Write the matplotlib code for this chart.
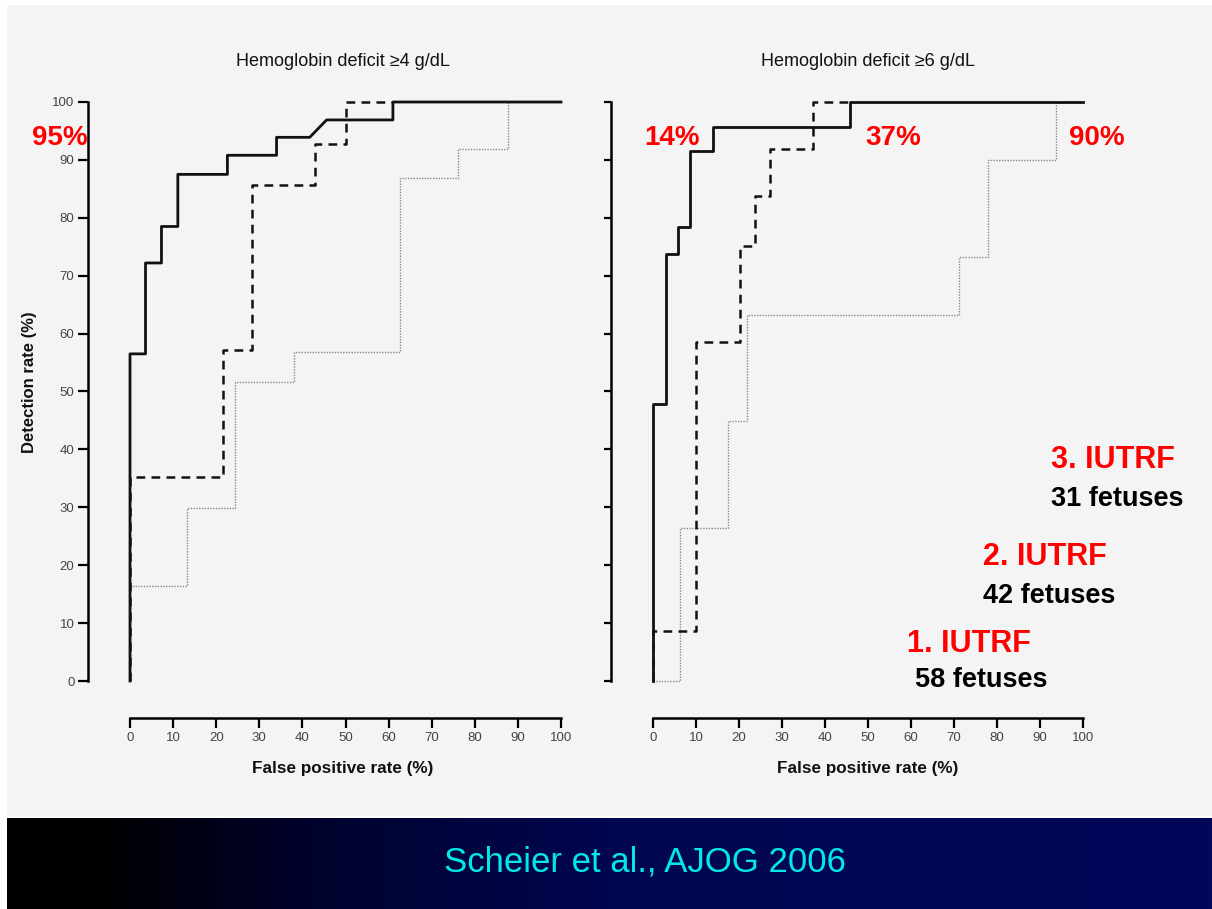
import numpy as np
import matplotlib
matplotlib.use("Agg")
import matplotlib.pyplot as plt
from matplotlib.colors import LinearSegmentedColormap
from matplotlib.patches import Rectangle

plt.rcParams['font.family'] = ['Liberation Sans', 'DejaVu Sans']

# ROC step curves (false positive %, detection %)
left_1_x = [0, 0, 3.6, 3.6, 7.3, 7.3, 11.1, 11.1, 22.6, 22.6, 34.0, 34.0, 41.7, 45.6, 61.0, 61.0, 100]
left_1_y = [0, 56.5, 56.5, 72.2, 72.2, 78.5, 78.5, 87.5, 87.5, 90.8, 90.8, 93.9, 93.9, 96.9, 96.9, 100, 100]
left_2_x = [0, 0, 21.6, 21.6, 28.3, 28.3, 43.0, 43.0, 50.1, 50.1, 61.0]
left_2_y = [0, 35.3, 35.3, 57.2, 57.2, 85.7, 85.7, 92.8, 92.8, 100, 100]
left_3_x = [0, 0, 13.2, 13.2, 24.4, 24.4, 38.0, 38.0, 62.7, 62.7, 76.2, 76.2, 87.6, 87.6, 100]
left_3_y = [0, 16.4, 16.4, 29.9, 29.9, 51.7, 51.7, 56.8, 56.8, 86.8, 86.8, 91.8, 91.8, 100, 100]

right_1_x = [0, 0, 3.0, 3.0, 5.8, 5.8, 8.5, 8.5, 14.0, 14.0, 45.7, 45.7, 100]
right_1_y = [0, 47.9, 47.9, 73.7, 73.7, 78.4, 78.4, 91.5, 91.5, 95.7, 95.7, 100, 100]
right_2_x = [0, 0, 10.1, 10.1, 20.3, 20.3, 23.7, 23.7, 27.2, 27.2, 37.2, 37.2, 45.7]
right_2_y = [0, 8.6, 8.6, 58.6, 58.6, 75.1, 75.1, 83.8, 83.8, 91.9, 91.9, 100, 100]
right_3_x = [0, 6.3, 6.3, 17.5, 17.5, 21.9, 21.9, 71.2, 71.2, 77.9, 77.9, 93.7, 93.7, 100]
right_3_y = [0, 0, 26.4, 26.4, 44.9, 44.9, 63.2, 63.2, 73.2, 73.2, 90.0, 90.0, 100, 100]

titles = ["Hemoglobin deficit \u22654 g/dL", "Hemoglobin deficit \u22656 g/dL"]
ticks = list(range(0, 101, 10))
fpr_labels = ["95%", "14%", "37%", "90%"]
groups = ["1. IUTRF", "2. IUTRF", "3. IUTRF"]
fetuses = ["58 fetuses", "42 fetuses", "31 fetuses"]
source = "Scheier et al., AJOG 2006"

W, H = 1212, 909
BG = '#f4f4f4'


def px(x, y):
    # pixel position (from top left) -> figure fraction
    return x / W, 1 - y / H


def style_axes(ax, show_ylabels):
    ax.set_xlim(0, 100)
    ax.set_ylim(0, 100)
    ax.set_facecolor('none')
    for s in ['top', 'right']:
        ax.spines[s].set_visible(False)
    ax.spines['left'].set_position(('outward', 30))
    ax.spines['bottom'].set_position(('outward', 26.6))
    for s in ['left', 'bottom']:
        ax.spines[s].set_linewidth(1.8)
    ax.set_xticks(ticks)
    ax.set_yticks(ticks)
    ax.tick_params(direction='out', length=7, width=1.6, labelsize=9.5,
                   labelcolor='#444444', pad=3)
    if not show_ylabels:
        ax.tick_params(axis='y', labelleft=False, length=5)


def draw_curves(ax, c1, c2, c3):
    ax.plot(c3[0], c3[1], color='#8a8a8a', lw=1.0, ls=(0, (1, 1)), clip_on=False)
    ax.plot(c2[0], c2[1], color='#111111', lw=1.8, ls=(0, (3.5, 2.5)), clip_on=False)
    ax.plot(c1[0], c1[1], color='#111111', lw=2.0, clip_on=False)


fig = plt.figure(figsize=(W / 100, H / 100), dpi=100, facecolor='white')
fig.patches.append(Rectangle(px(7, 816), (W - 7) / W, 811 / H, transform=fig.transFigure,
                             facecolor=BG, edgecolor='none', zorder=-10))

# banner with a black -> navy gradient
bax = fig.add_axes([7 / W, 0, (W - 7) / W, 91 / H])
cmap = LinearSegmentedColormap.from_list(
    'banner', [(0, '#000000'), (0.07, '#000000'), (0.25, '#00022c'),
               (0.5, '#000650'), (1, '#00085a')])
bax.imshow(np.linspace(0, 1, 256)[None, :], aspect='auto', cmap=cmap, extent=[0, 1, 0, 1])
bax.axis('off')
fig.text(*px(645, 872), source, color='#00e8e8', fontsize=25, ha='center', va='baseline')

ax1 = fig.add_axes([130 / W, 1 - 681 / H, 431 / W, 579 / H])
ax2 = fig.add_axes([653 / W, 1 - 681 / H, 430 / W, 579 / H])
style_axes(ax1, True)
style_axes(ax2, False)
ax2.spines['left'].set_position(('outward', 30.2))

draw_curves(ax1, (left_1_x, left_1_y), (left_2_x, left_2_y), (left_3_x, left_3_y))
draw_curves(ax2, (right_1_x, right_1_y), (right_2_x, right_2_y), (right_3_x, right_3_y))

for ax, t, cx in [(ax1, titles[0], 343), (ax2, titles[1], 868)]:
    fig.text(*px(cx, 62), t, fontsize=13, ha='center', va='center', color='#111111')
    fig.text(*px(cx, 769), "False positive rate (%)", fontsize=12.3, fontweight='bold',
             ha='center', va='center', color='#111111')

fig.text(*px(30, 382), "Detection rate (%)", fontsize=12, fontweight='bold', rotation=90,
         ha='center', va='center', color='#111111')

# red percentages
for lab, x in zip(fpr_labels, [32, 644, 865, 1069]):
    fig.text(*px(x, 145), lab, color='#ff0000', fontsize=20, fontweight='bold', va='baseline')

# group labels
for g, f, gx, gy, fx, fy in zip(groups, fetuses,
                                [907, 983, 1051], [652, 565, 468],
                                [915, 983, 1051], [687, 603, 506]):
    fig.text(*px(gx, gy), g, color='#ff0000', fontsize=22, fontweight='bold', va='baseline')
    fig.text(*px(fx, fy), f, color='#000000', fontsize=19.5, fontweight='bold', va='baseline')

fig.savefig('out.png', dpi=100, facecolor=fig.get_facecolor())
